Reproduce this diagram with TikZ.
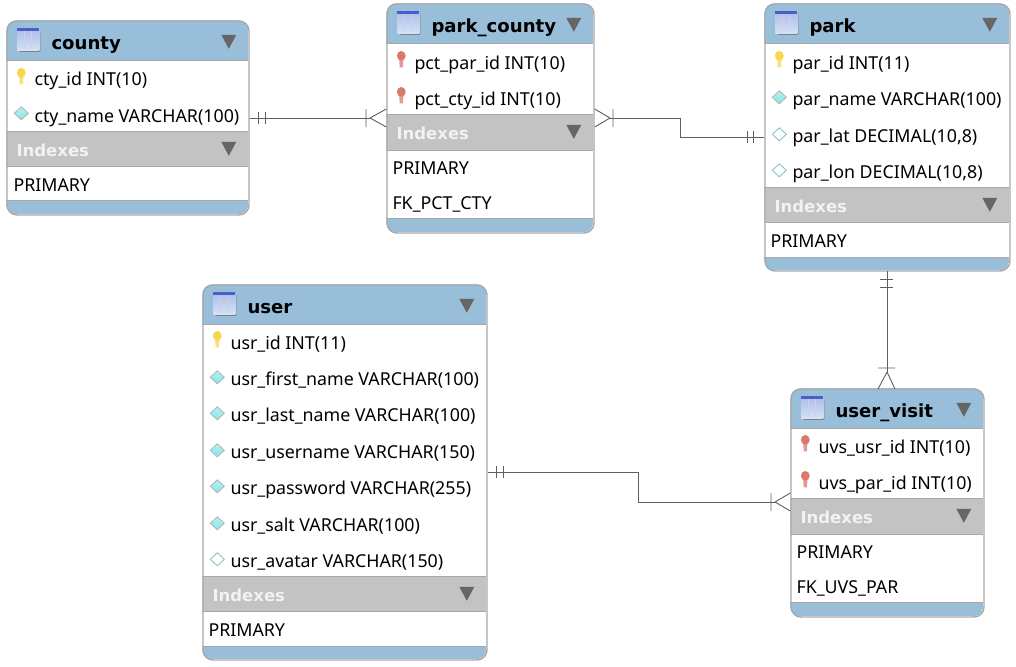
\documentclass[tikz,border=0pt]{standalone}
\usepackage{fontspec}
\setmainfont{Noto Sans}
\newfontfamily\boldface{DejaVu Sans Bold}
\usetikzlibrary{calc}
\definecolor{hdrblue}{HTML}{98BEDA}
\definecolor{idxgray}{HTML}{C3C3C3}
\definecolor{edgegray}{HTML}{A8A8A8}
\definecolor{linegray}{HTML}{5E5E5E}
\definecolor{trigray}{HTML}{666666}
\definecolor{keyyellow}{HTML}{F6D84C}
\definecolor{keyred}{HTML}{D9786C}
\definecolor{cyanfill}{HTML}{86E6E6}
\definecolor{iconblue}{HTML}{4A5FC8}
\definecolor{iconfill}{HTML}{C4D4F0}
\tikzset{
  x=1pt,y=-1pt,
  frame/.style={draw=edgegray,line width=1.4pt,rounded corners=10pt,inner sep=0pt,anchor=north west},
  rowtext/.style={anchor=base west,inner sep=0pt,font=\fontsize{17.8}{20}\selectfont,text=black},
  titletext/.style={anchor=base west,inner sep=0pt,font=\fontsize{18.1}{22}\boldface,text=black},
  idxtext/.style={anchor=base west,inner sep=0pt,font=\fontsize{16.5}{20}\boldface,text=white!95!black},
  conn/.style={draw=linegray,line width=0.9pt},
}
% name, title, x1, x2, top, fields end, indexes end, rows end, bottom
\newcommand{\ertable}[9]{%
  \pgfmathsetmacro{\tblw}{#4-#3}\pgfmathsetmacro{\tblh}{#9-#5}%
  \begin{scope}
    \clip[rounded corners=10pt] (#3,#5) rectangle (#4,#9);
    \fill[white] (#3,#5) rectangle (#4,#9);
    \fill[hdrblue] (#3,#5) rectangle (#4,#5+40);
    \draw[edgegray,line width=1pt] (#3,#5+40) -- (#4,#5+40);
    \fill[idxgray] (#3,#6) rectangle (#4,#7);
    \draw[edgegray,line width=1pt] (#3,#6) -- (#4,#6) (#3,#7) -- (#4,#7);
    \fill[hdrblue] (#3,#8) rectangle (#4,#9);
    \draw[edgegray,line width=1pt] (#3,#8) -- (#4,#8);
  \end{scope}
  \node[frame,minimum width=\tblw pt,minimum height=\tblh pt] (#1) at (#3,#5) {};
  % table icon
  \fill[black!50,rounded corners=1pt] (#3+13,#5+10) rectangle (#3+34,#5+31.5);
  \shade[top color=iconfill!80!iconblue,bottom color=iconfill!70!white] (#3+11,#5+8) rectangle (#3+33,#5+30);
  \draw[white!70!iconblue,line width=0.7pt] (#3+18.5,#5+11) -- (#3+18.5,#5+28) (#3+25.5,#5+11) -- (#3+25.5,#5+28);
  \fill[iconblue] (#3+11,#5+8) rectangle (#3+33,#5+10.5);
  \node[titletext] (#1-title) at (#3+45,#5+29) {#2};
  \fill[trigray] (#4-27,#5+14.5) -- (#4-12,#5+14.5) -- (#4-19.5,#5+28.5) -- cycle;
  \node[idxtext] (#1-idx) at (#3+10,#6+25) {Indexes};
  \fill[trigray] (#4-27,#6+10.5) -- (#4-12,#6+10.5) -- (#4-19.5,#6+24.5) -- cycle;
}
% key icon: colour, x, text mid y
\newcommand{\keyicon}[3]{%
  \fill[#1!75!white] (#2-2.4,#3-5) -- (#2+2.4,#3-5) -- (#2+1.6,#3+7) -- (#2-1.6,#3+7) -- cycle;
  \fill[#1] (#2,#3-4.5) ellipse (4.4pt and 4.8pt);
}
\newcommand{\diaicon}[4]{%
  \shade[top color=#1!60!white,bottom color=#1,draw=#2,line width=0.8pt] (#3-7,#4) -- (#3,#4-6.5) -- (#3+7,#4) -- (#3,#4+6.5) -- cycle;
}
% name-suffix, x of text, mid y, text
\newcommand{\rowt}[4]{\node[rowtext] (#1) at (#2,#3+7.5) {#4};}
\begin{document}
\begin{tikzpicture}
\useasboundingbox (0.7,0.7) rectangle (1016.7,666.7);
\fill[white] (0.7,0.7) rectangle (1016.7,666.7);

\ertable{county}{county}{7}{249}{21}{132}{167}{201}{215}
\ertable{parkcounty}{park\_county}{387}{594}{4}{115}{151}{219}{233}
\ertable{park}{park}{765}{1010}{4}{188}{223}{258}{271}
\ertable{user}{user}{203}{487}{285}{577}{612}{647}{660}
\ertable{uservisit}{user\_visit}{791}{984}{389}{499}{535}{603}{617}

% county
\keyicon{keyyellow}{22}{78}
\rowt{c1}{35}{79}{cty\_id INT(10)}
\diaicon{cyanfill}{black!30}{22}{114}
\rowt{c2}{35}{116}{cty\_name VARCHAR(100)}
\rowt{c3}{14}{185}{PRIMARY}

% park_county
\keyicon{keyred}{402}{61}
\rowt{p1}{415}{63}{pct\_par\_id INT(10)}
\keyicon{keyred}{402}{97}
\rowt{p2}{415}{99}{pct\_cty\_id INT(10)}
\rowt{p3}{393}{168}{PRIMARY}
\rowt{p4}{393}{203}{FK\_PCT\_CTY}

% park
\keyicon{keyyellow}{780}{61}
\rowt{k1}{793}{63}{par\_id INT(11)}
\diaicon{cyanfill}{black!30}{780}{98}
\rowt{k2}{793}{99}{par\_name VARCHAR(100)}
\diaicon{white}{teal!50}{780}{135}
\rowt{k3}{793}{136}{par\_lat DECIMAL(10,8)}
\diaicon{white}{teal!50}{780}{171}
\rowt{k4}{793}{172}{par\_lon DECIMAL(10,8)}
\rowt{k5}{771}{241}{PRIMARY}

% user
\keyicon{keyyellow}{218}{341}
\rowt{u1}{231}{343}{usr\_id INT(11)}
\diaicon{cyanfill}{black!30}{218}{378}
\rowt{u2}{231}{379}{usr\_first\_name VARCHAR(100)}
\diaicon{cyanfill}{black!30}{218}{414}
\rowt{u3}{231}{415}{usr\_last\_name VARCHAR(100)}
\diaicon{cyanfill}{black!30}{218}{451}
\rowt{u4}{231}{452}{usr\_username VARCHAR(150)}
\diaicon{cyanfill}{black!30}{218}{487}
\rowt{u5}{231}{488}{usr\_password VARCHAR(255)}
\diaicon{cyanfill}{black!30}{218}{524}
\rowt{u6}{231}{525}{usr\_salt VARCHAR(100)}
\diaicon{white}{teal!50}{218}{560}
\rowt{u7}{231}{561}{usr\_avatar VARCHAR(150)}
\rowt{u8}{209}{630}{PRIMARY}

% user_visit
\keyicon{keyred}{806}{445}
\rowt{v1}{819}{447}{uvs\_usr\_id INT(10)}
\keyicon{keyred}{806}{481}
\rowt{v2}{819}{483}{uvs\_par\_id INT(10)}
\rowt{v3}{797}{552}{PRIMARY}
\rowt{v4}{797}{587}{FK\_UVS\_PAR}

% connectors
\begin{scope}[shift={(0.7,0.7)}]
\coordinate (a1) at (county.east |- 0,118);
\coordinate (a2t) at (370,118);
\draw[conn] (a1) -- (a2t);
\draw[conn] (258,112) -- (258,124) (265,112) -- (265,124);
\draw[conn] (a2t) -- (parkcounty.west |- 0,109) (a2t) -- (parkcounty.west |- 0,127) (366,109) -- (366,127);

\coordinate (b1t) at (610,118);
\coordinate (b2) at (park.west |- 0,137);
\draw[conn] (b1t) -- (680,118) -- (680,137) -- (b2);
\draw[conn] (b1t) -- (parkcounty.east |- 0,109) (b1t) -- (parkcounty.east |- 0,127) (613,109) -- (613,127);
\draw[conn] (747,131) -- (747,143) (753,131) -- (753,143);

\coordinate (d1) at (887,271);
\coordinate (d2t) at (887,372);
\draw[conn] (d1) -- (d2t);
\draw[conn] (880,279) -- (893,279) (880,287) -- (893,287);
\draw[conn] (d2t) -- (878,389) (d2t) -- (895,389) (878,368) -- (895,368);

\coordinate (e1) at (user.east |- 0,472);
\coordinate (e2t) at (775,502);
\draw[conn] (e1) -- (638,472) -- (638,502) -- (e2t);
\draw[conn] (496,466) -- (496,478) (503,466) -- (503,478);
\draw[conn] (e2t) -- (uservisit.west |- 0,493) (e2t) -- (uservisit.west |- 0,511) (771,493) -- (771,511);
\end{scope}
\end{tikzpicture}
\end{document}
